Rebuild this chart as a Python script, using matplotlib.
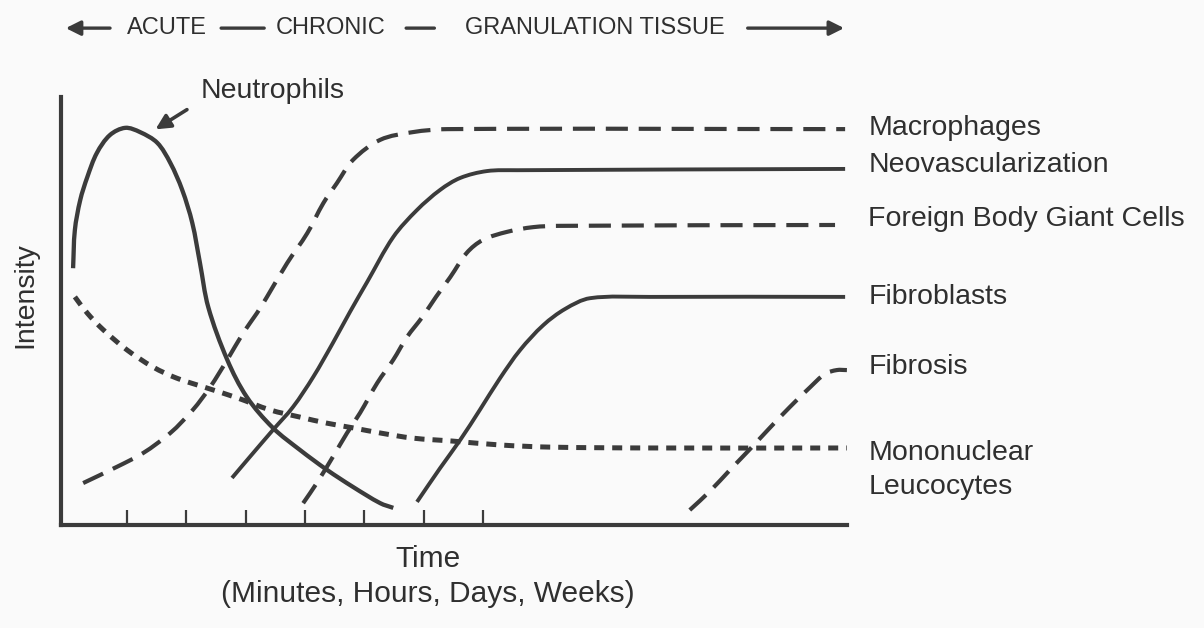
import matplotlib
matplotlib.use("Agg")
import matplotlib.pyplot as plt
import numpy as np
from matplotlib.path import Path
from matplotlib.patches import PathPatch

plt.rcParams['font.family'] = ['Liberation Sans', 'DejaVu Sans']

INK = '#3b3b3b'
TXT = '#2f2f2f'

# time in tick units (ticks at 1..7), intensity 0..10 (top of y axis)
neutro_t = [0.09, 0.12, 0.21, 0.33, 0.49, 0.71, 0.97, 1.22, 1.51, 1.73, 1.93, 2.10,
            2.23, 2.37, 2.69, 3.02, 3.46, 3.92, 4.37, 4.81, 5.27, 5.49]
neutro_i = [6.00, 6.89, 7.59, 8.13, 8.69, 9.11, 9.28, 9.18, 8.93, 8.46, 7.83, 7.06,
            6.12, 5.09, 3.86, 2.99, 2.27, 1.75, 1.29, 0.89, 0.51, 0.40]

macro_t = [0.26, 0.83, 1.27, 1.73, 2.11, 2.40, 2.69, 2.96, 3.19, 3.36, 3.70, 4.04,
           4.31, 4.54, 4.81, 5.27, 5.82, 6.40, 13.11]
macro_i = [0.98, 1.36, 1.68, 2.15, 2.69, 3.22, 3.86, 4.49, 4.95, 5.33, 6.12, 6.82,
           7.52, 7.99, 8.53, 9.00, 9.18, 9.25, 9.25]

neovasc_t = [2.77, 3.07, 3.46, 3.80, 4.14, 4.47, 4.76, 5.05, 5.49, 5.89, 6.28, 6.62,
             7.07, 7.58, 13.11]
neovasc_i = [1.10, 1.59, 2.22, 2.76, 3.46, 4.25, 4.98, 5.68, 6.73, 7.36, 7.83, 8.11,
             8.27, 8.29, 8.32]

fbgc_t = [3.97, 4.20, 4.47, 4.71, 4.93, 5.22, 5.49, 5.72, 5.98, 6.21, 6.45, 6.73,
          7.00, 7.41, 7.85, 8.30, 12.94]
fbgc_i = [0.51, 0.98, 1.59, 2.15, 2.62, 3.32, 3.86, 4.39, 4.86, 5.33, 5.79, 6.36,
          6.66, 6.85, 6.96, 6.99, 7.01]

fibroblast_t = [5.89, 6.28, 6.62, 6.95, 7.29, 7.63, 8.02, 8.39, 8.81, 9.82, 13.11]
fibroblast_i = [0.54, 1.33, 1.99, 2.69, 3.43, 4.09, 4.67, 5.05, 5.30, 5.33, 5.33]

fibrosis_t = [10.49, 10.83, 11.17, 11.51, 11.84, 12.18, 12.52, 12.77, 12.97, 13.14]
fibrosis_i = [0.35, 0.79, 1.29, 1.78, 2.27, 2.76, 3.22, 3.53, 3.62, 3.62]

mono_t = [0.12, 0.33, 0.60, 1.00, 1.44, 1.84, 2.35, 2.86, 3.41, 3.92, 4.37, 4.81,
          5.27, 5.82, 6.50, 7.29, 8.13, 9.82, 13.14]
mono_i = [5.33, 4.95, 4.56, 4.09, 3.69, 3.43, 3.20, 2.97, 2.69, 2.52, 2.38, 2.27,
          2.15, 2.03, 1.96, 1.87, 1.82, 1.80, 1.80]

tick_pos = [1, 2, 3, 4, 5, 6, 7]

curve_names = ['Macrophages', 'Neovascularization', 'Foreign Body Giant Cells',
               'Fibroblasts', 'Fibrosis', 'Mononuclear\nLeucocytes']


def smooth_curve(ax, xs, ys, **kw):
    # hand-drawn look: bezier through the read points (chord-length tangents)
    p = np.column_stack([xs, ys]).astype(float)
    sc = np.array([59.3, 42.8])  # roughly pixels per unit, only for distances
    d = np.hypot(*((p[1:] - p[:-1]) * sc).T)
    n = len(p)
    m = np.zeros_like(p)
    m[0] = (p[1] - p[0]) / d[0]
    m[-1] = (p[-1] - p[-2]) / d[-1]
    for i in range(1, n - 1):
        m[i] = (p[i + 1] - p[i - 1]) / (d[i - 1] + d[i])
    verts = [p[0]]
    codes = [Path.MOVETO]
    for i in range(n - 1):
        verts += [p[i] + m[i] * d[i] / 3, p[i + 1] - m[i + 1] * d[i] / 3, p[i + 1]]
        codes += [Path.CURVE4] * 3
    patch = PathPatch(Path(verts, codes), fill=False, edgecolor=INK, **kw)
    patch.set_capstyle('butt')
    patch.set_joinstyle('round')
    ax.add_patch(patch)
    return patch


fig = plt.figure(figsize=(12.04, 6.28), dpi=100)
fig.patch.set_facecolor('#fafafa')
ax = fig.add_axes([0.0507, 0.164, 0.6532, 0.6815])
ax.set_facecolor('none')

# ---- curves ----
dash = (0, (5.3, 2.6))
smooth_curve(ax, neutro_t, neutro_i, lw=3.1)
smooth_curve(ax, macro_t, macro_i, lw=3, linestyle=dash)
smooth_curve(ax, neovasc_t, neovasc_i, lw=2.8)
smooth_curve(ax, fbgc_t, fbgc_i, lw=3, linestyle=dash)
smooth_curve(ax, fibroblast_t, fibroblast_i, lw=2.8)
smooth_curve(ax, fibrosis_t, fibrosis_i, lw=3, linestyle=dash)
smooth_curve(ax, mono_t, mono_i, lw=3.6, linestyle=(0, (2.0, 1.6)))

# ---- axes ----
ax.set_xlim(-0.113, 13.15)
ax.set_ylim(0, 10)
for s in ['top', 'right']:
    ax.spines[s].set_visible(False)
for s in ['left', 'bottom']:
    ax.spines[s].set_linewidth(3)
    ax.spines[s].set_color(INK)
ax.set_xticks(tick_pos)
ax.set_xticklabels([])
ax.set_yticks([])
ax.tick_params(axis='x', direction='in', length=11, width=1.6, color=INK)

# ---- labels on the right ----
label_y = [9.11, 8.25, 6.99, 5.16, 3.53, 0.72]
for name, yy in zip(curve_names, label_y):
    ax.text(13.50, yy, name, fontsize=20.5, color=TXT, va='baseline', ha='left',
            linespacing=1.4, clip_on=False)

ax.text(2.24, 9.98, 'Neutrophils', fontsize=20.5, color=TXT, va='baseline',
        ha='left', clip_on=False)
ax.annotate('', xy=(1.44, 9.21), xytext=(2.05, 9.74),
            arrowprops=dict(arrowstyle='-|>', color=INK, lw=2.6, mutation_scale=22),
            annotation_clip=False)

# axis titles
fig.text(25 / 1204, 1 - 295 / 628, 'Intensity', rotation=90, fontsize=20.5,
         color=TXT, ha='center', va='center')
fig.text(428 / 1204, 1 - 567 / 628, 'Time', fontsize=21.5, color=TXT,
         ha='center', va='baseline')
fig.text(428 / 1204, 1 - 602 / 628, '(Minutes, Hours, Days, Weeks)', fontsize=21.5,
         color=TXT, ha='center', va='baseline')

# ---- header: ACUTE - CHRONIC - GRANULATION TISSUE ----
hy = 11.61
arr = dict(arrowstyle='-|>', color=INK, lw=2.4, mutation_scale=22)
ax.annotate('', xy=(-0.08, hy), xytext=(0.76, hy), arrowprops=arr,
            annotation_clip=False)
ax.annotate('', xy=(13.14, hy), xytext=(11.42, hy), arrowprops=arr,
            annotation_clip=False)
ax.annotate('', xy=(3.36, hy), xytext=(2.54, hy),
            arrowprops=dict(arrowstyle='-', color=INK, lw=2.4), annotation_clip=False)
ax.annotate('', xy=(6.23, hy), xytext=(5.66, hy),
            arrowprops=dict(arrowstyle='-', color=INK, lw=2.4), annotation_clip=False)
ax.text(1.68, hy, 'ACUTE', fontsize=17, color=TXT, ha='center', va='center', clip_on=False)
ax.text(4.44, hy, 'CHRONIC', fontsize=17, color=TXT, ha='center', va='center', clip_on=False)
ax.text(8.89, hy, 'GRANULATION TISSUE', fontsize=17, color=TXT, ha='center',
        va='center', clip_on=False)

fig.savefig('out.png', dpi=100, facecolor=fig.get_facecolor())
